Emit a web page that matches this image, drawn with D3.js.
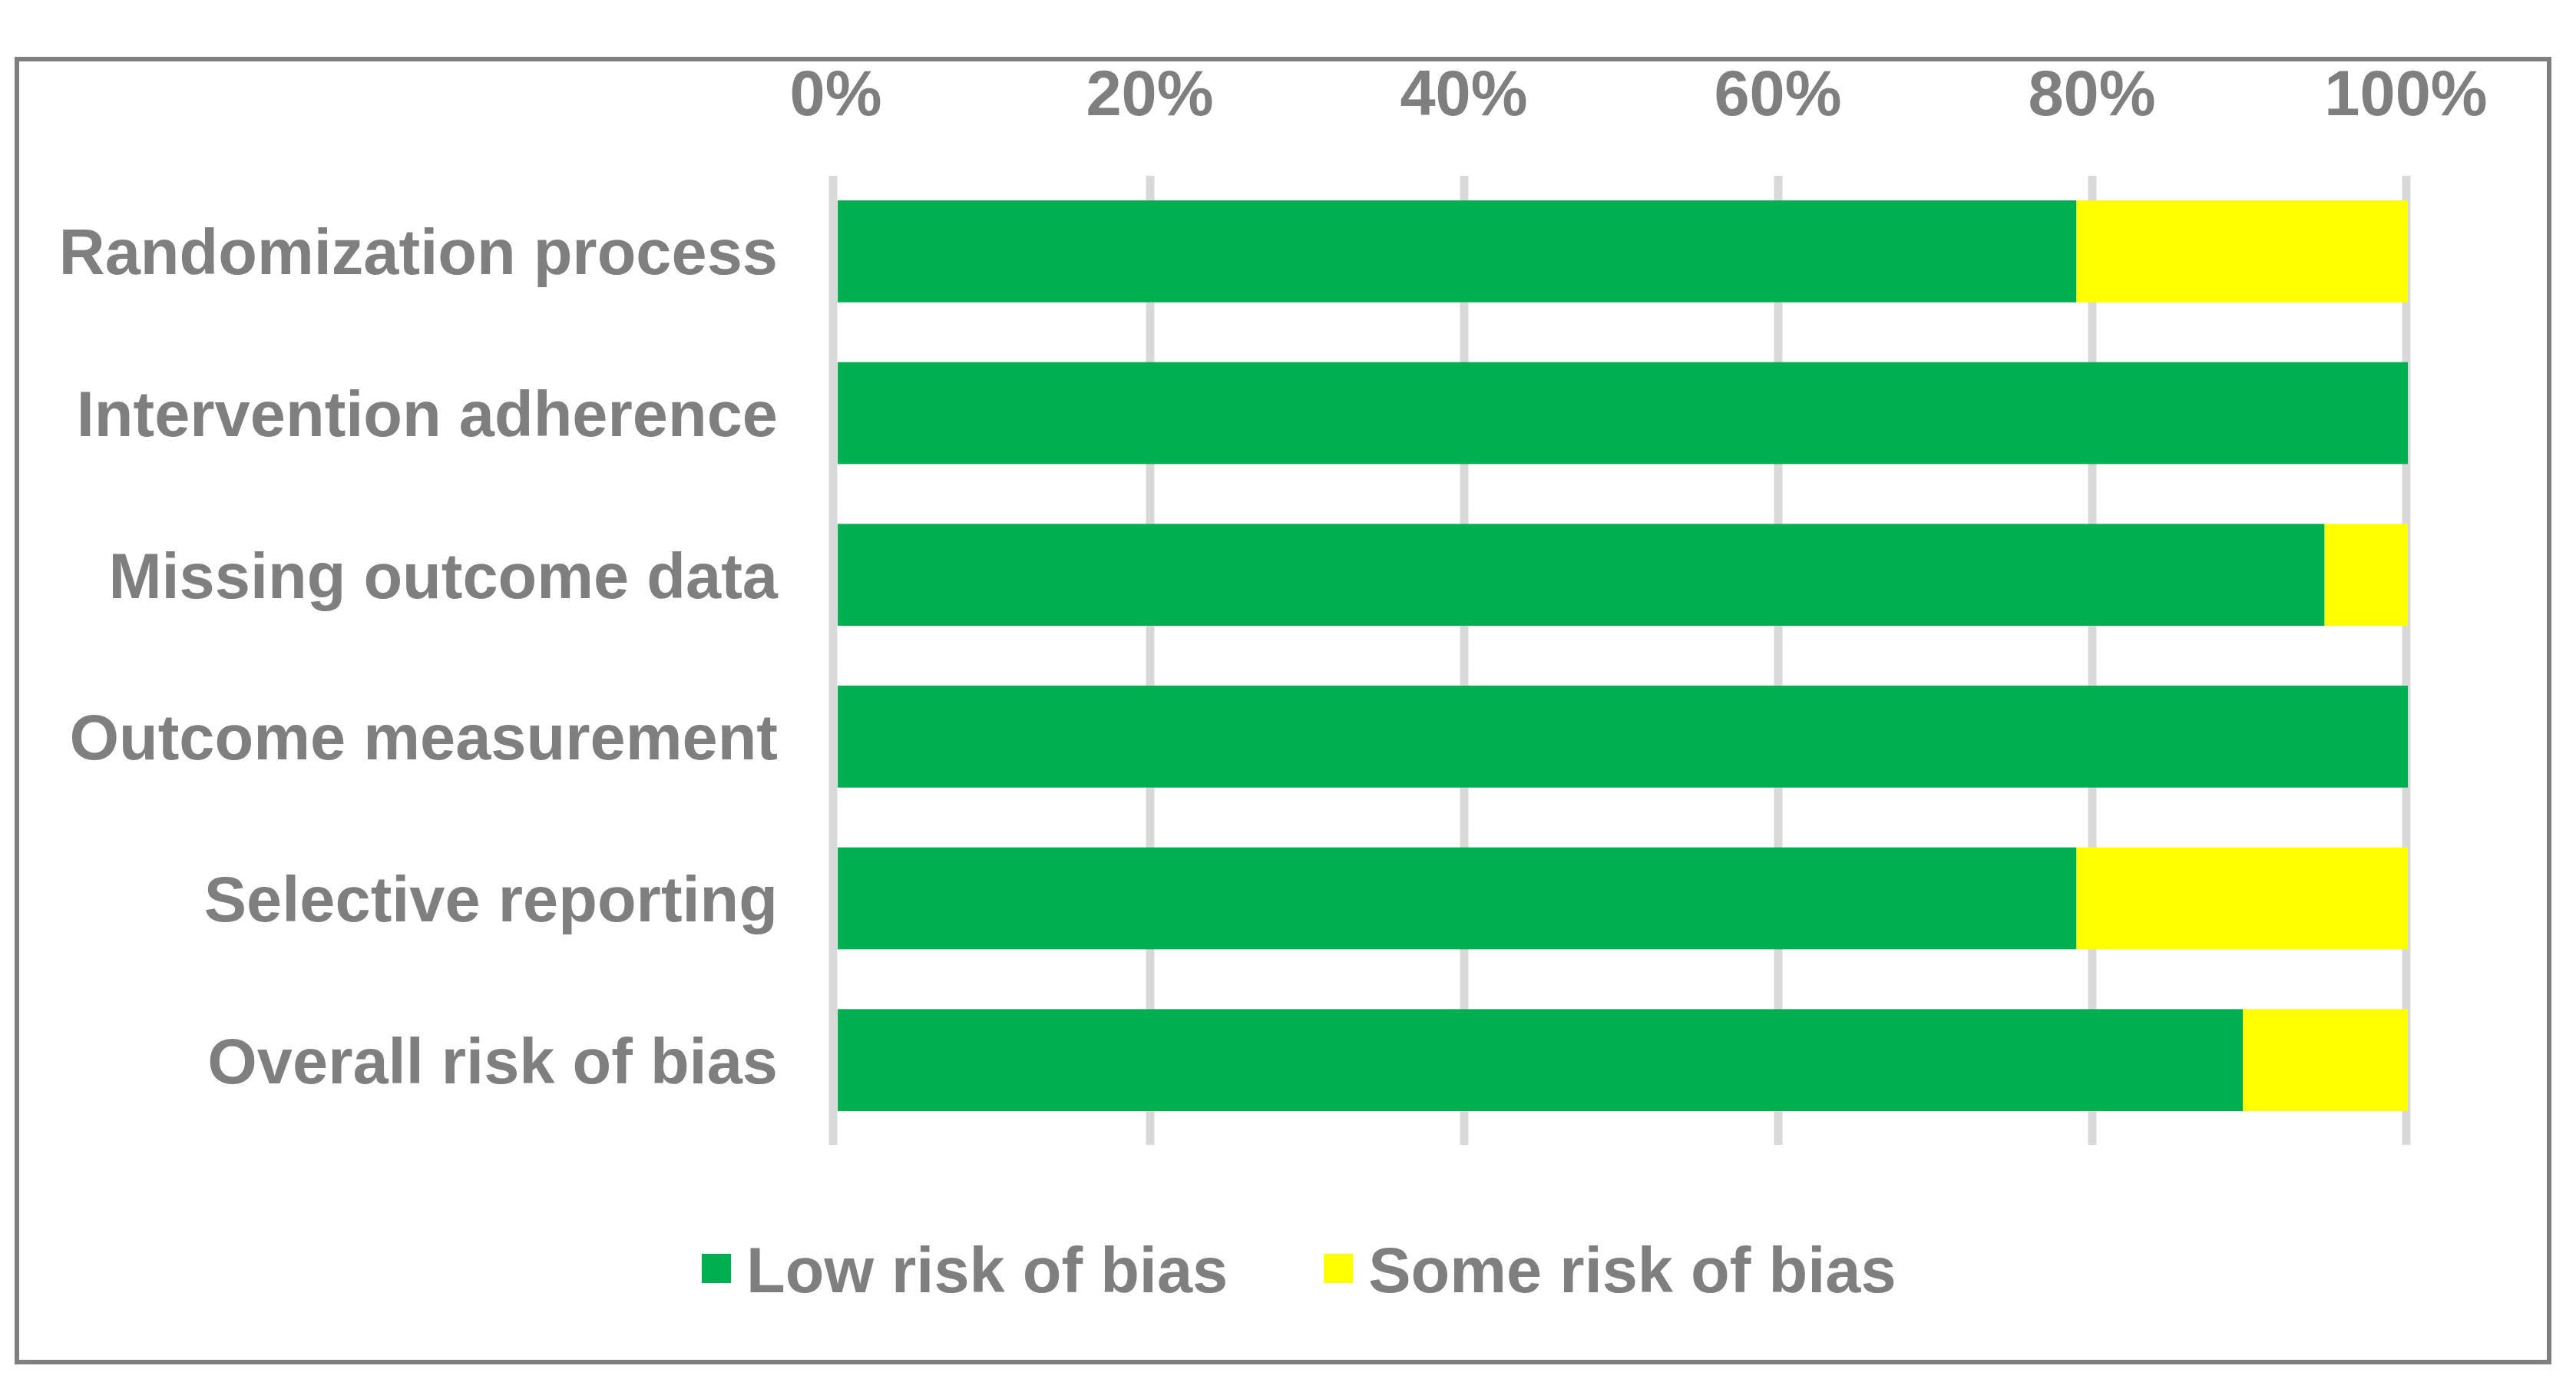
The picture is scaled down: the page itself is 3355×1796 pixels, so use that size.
<!DOCTYPE html>
<html>
<head>
<meta charset="utf-8">
<script src="https://cdn.jsdelivr.net/npm/d3@7"></script>
<style>
  body { margin: 0; background: #fff; }
  text { font-family: "Liberation Sans", Arial, sans-serif; font-weight: bold; fill: #7f7f7f; }
</style>
</head>
<body>
<div id="chart"></div>
<script>
// risk of bias domains, top to bottom
const domains = [
  "Randomization process",
  "Intervention adherence",
  "Missing outcome data",
  "Outcome measurement",
  "Selective reporting",
  "Overall risk of bias"
];
// percent of studies (19 studies)
const lowRisk = [78.9, 100, 94.7, 100, 78.9, 89.5];
const someRisk = [21.1, 0, 5.3, 0, 21.1, 10.5];

const seriesNames = ["Low risk of bias", "Some risk of bias"];
const seriesColors = ["#00b050", "#ffff00"];
const tickValues = [0, 20, 40, 60, 80, 100];

const width = 3355, height = 1796;
const fontSize = 83;
const gridTop = 229, gridBottom = 1491;

const svg = d3.select("#chart")
  .append("svg")
  .attr("width", width)
  .attr("height", height)
  .style("background-color", "#fff");

// outer frame
svg.append("rect")
  .attr("x", 22).attr("y", 77)
  .attr("width", 3298).attr("height", 1697)
  .attr("fill", "none")
  .attr("stroke", "#7f7f7f")
  .attr("stroke-width", 6);

const x = d3.scaleLinear()
  .domain([0, 100])
  .range([1091, 3136]);

const y = d3.scaleBand()
  .domain(domains)
  .range([222, 1486])
  .paddingInner(0.37)
  .paddingOuter(0.185);

// vertical gridlines
svg.append("g")
  .selectAll("line")
  .data(tickValues.filter(d => d > 0))
  .join("line")
    .attr("x1", d => x(d) - 2).attr("x2", d => x(d) - 2)
    .attr("y1", gridTop).attr("y2", gridBottom)
    .attr("stroke", "#d9d9d9")
    .attr("stroke-width", 11);

// stacked bars
const rows = domains.map((d, i) => ({ name: d, values: [lowRisk[i], someRisk[i]] }));
const stack = d3.stack()
  .keys([0, 1])
  .value((d, k) => d.values[k]);
const layers = stack(rows);

svg.append("g")
  .selectAll("g")
  .data(layers)
  .join("g")
    .attr("fill", (d, i) => seriesColors[i])
  .selectAll("rect")
  .data(d => d)
  .join("rect")
    .attr("x", d => x(d[0]))
    .attr("y", d => y(d.data.name))
    .attr("width", d => x(d[1]) - x(d[0]))
    .attr("height", y.bandwidth());

// axis line at 0%
svg.append("line")
  .attr("x1", x(0) - 6).attr("x2", x(0) - 6)
  .attr("y1", gridTop).attr("y2", gridBottom)
  .attr("stroke", "#d9d9d9")
  .attr("stroke-width", 11);

// top axis labels
const xAxis = g => g
  .attr("transform", "translate(-3,150)")
  .call(d3.axisTop(x).tickValues(tickValues).tickFormat(d => d + "%").tickSize(0).tickPadding(0))
  .call(g => g.select(".domain").remove())
  .call(g => g.selectAll("text")
    .attr("dy", 0)
    .style("font-size", fontSize + "px")
    .style("font-family", "'Liberation Sans', Arial, sans-serif")
    .style("font-weight", "bold")
    .attr("fill", "#7f7f7f"));
svg.append("g").call(xAxis);

// category labels
const yAxis = g => g
  .attr("transform", "translate(1013,0)")
  .call(d3.axisLeft(y).tickSize(0).tickPadding(0))
  .call(g => g.select(".domain").remove())
  .call(g => g.selectAll("text")
    .attr("dy", "0.36em")
    .style("font-size", fontSize + "px")
    .style("font-family", "'Liberation Sans', Arial, sans-serif")
    .style("font-weight", "bold")
    .attr("fill", "#7f7f7f"));
svg.append("g").call(yAxis);

// legend
const legend = svg.append("g");
const items = legend.selectAll("g")
  .data(seriesNames)
  .join("g");
items.append("rect")
  .attr("width", 38).attr("height", 38)
  .attr("y", 1633)
  .attr("fill", (d, i) => seriesColors[i]);
items.append("text")
  .attr("x", 58)
  .attr("y", 1683)
  .style("font-size", fontSize + "px")
  .text(d => d);

let cx = 914;
items.each(function() {
  const g = d3.select(this);
  g.attr("transform", `translate(${cx},0)`);
  cx += 58 + g.select("text").node().getComputedTextLength() + 125;
});
</script>
</body>
</html>
